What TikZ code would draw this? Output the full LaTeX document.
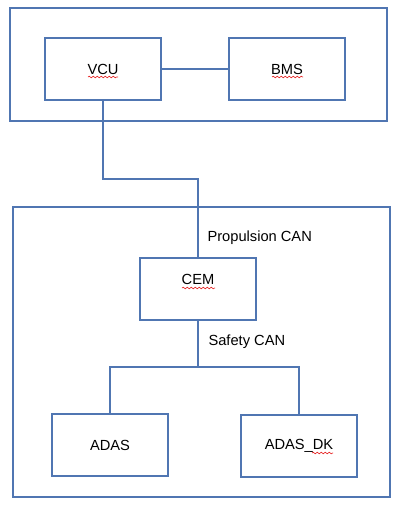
\documentclass[tikz,border=0pt]{standalone}
\usepackage{fontspec}
\setmainfont{Liberation Sans}
\usepackage{tikz}
\usetikzlibrary{decorations.pathmorphing}
\definecolor{canblue}{RGB}{80,118,178}
\definecolor{spellred}{RGB}{230,40,40}

\begin{document}
\begin{tikzpicture}[x=0.75pt,y=-0.75pt,line width=0.8pt,
        font=\fontsize{11}{13}\selectfont,
        ecu/.style={draw=canblue,rectangle,minimum width=87pt,minimum height=46.5pt,inner sep=0pt},
        frame/.style={draw=canblue},
        bus/.style={draw=canblue},
        buslabel/.style={anchor=west,inner sep=0pt},
        squiggle/.style={draw=spellred,line width=0.5pt,decorate,decoration={snake,amplitude=0.6pt,segment length=3pt}}]
            \useasboundingbox (0,0) rectangle (403,507);

            \draw[frame] (10,8) rectangle (387,121);
            \draw[frame] (13,207) rectangle (390,497);

            \node[ecu] (vcu) at (103,69) {VCU};
            \node[ecu] (bms) at (287,69) {BMS};
            \node[ecu,text depth=15pt] (cem) at (198,289) {CEM};
            \node[ecu] (adas) at (110,445) {ADAS};
            \node[ecu] (adasdk) at (299,446) {ADAS\_DK};

            \coordinate (pbend) at (198,179);
            \coordinate (split) at (198,367);

            \draw[bus] (vcu.east) -- (bms.west);
            \draw[bus] (vcu.south) |- (pbend) -- (cem.north);
            \draw[bus] (cem.south) -- (split) -| (adas.north);
            \draw[bus] (split) -| (adasdk.north);

            \node[buslabel] (pcan) at (207,238) {Propulsion CAN};
            \node[buslabel] (scan) at (208,342) {Safety CAN};

            \draw[squiggle] (88,77) -- (118,77);
            \draw[squiggle] (272,77) -- (303,77);
            \draw[squiggle] (182,288) -- (215,288);
            \draw[squiggle] (312,453) -- (333,453);
        \end{tikzpicture}
\end{document}
